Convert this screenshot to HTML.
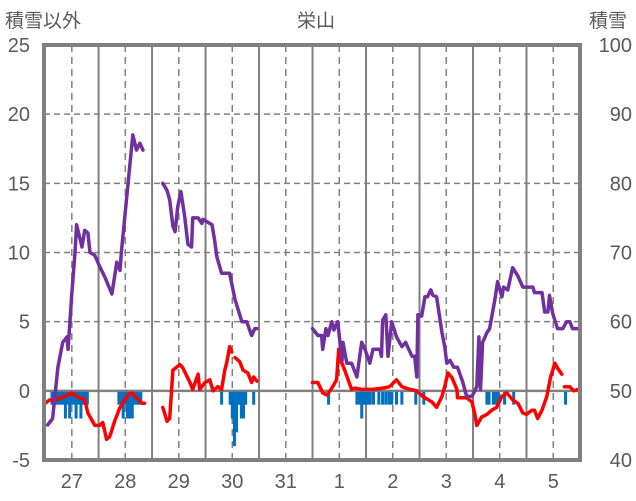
<!DOCTYPE html>
<html><head><meta charset="utf-8"><style>
body{margin:0;background:#fff;}
svg{display:block;font-family:"Liberation Sans","Noto Sans CJK JP",sans-serif;}
</style></head><body>
<svg id="chart" width="636" height="501" viewBox="0 0 636 501" xmlns="http://www.w3.org/2000/svg">
<text x="5" y="27" font-size="19" fill="#595959">積雪以外</text>
<text x="316" y="27" font-size="19" fill="#595959" text-anchor="middle">栄山</text>
<text x="589" y="27" font-size="19" fill="#595959">積雪</text>
<g id="grid"></g><g id="bars"></g><g id="lines"></g><g id="axes"></g>
</svg>
<script>
const dayTicks=[27,28,29,30,31,32,33,34,35,36];
const dayLabels=["27","28","29","30","31","1","2","3","4","5"];
const leftTicks=[-5,0,5,10,15,20,25];
const rightTicks=[40,50,60,70,80,90,100];
const snowT=[26.55,26.64,26.74,26.83,26.91,26.93,27.0,27.06,27.09,27.19,27.24,27.30,27.34,27.43,27.52,27.62,27.75,27.84,27.90,27.93,28.14,28.21,28.27,28.33,null,
28.70,28.78,28.83,28.89,28.93,28.98,29.04,29.11,29.17,29.24,29.26,29.36,29.43,29.45,29.62,29.67,29.71,29.80,29.95,30.05,30.18,30.27,30.36,30.42,30.46,null,
31.50,31.60,31.67,31.69,31.75,31.79,31.86,31.90,31.97,32.05,32.07,32.14,32.23,32.33,32.42,32.48,32.57,32.63,32.76,32.79,32.81,32.87,32.91,32.98,33.07,33.17,33.24,33.36,33.41,33.45,33.47,33.54,33.60,33.65,33.71,33.75,33.82,33.92,33.97,34.01,34.07,34.14,34.21,34.31,34.38,34.48,34.57,34.61,34.64,34.68,34.76,34.81,34.91,34.96,35.04,35.07,35.15,35.24,35.34,35.43,35.62,35.65,35.79,35.84,35.90,35.93,35.99,36.08,36.18,36.25,36.31,36.36,36.46];
const snowV=[-2.46,-2.0,1.7,3.5,3.9,3.0,7.0,10,12,10.4,11.6,11.4,10.0,9.8,9.0,8.2,7.0,9.3,8.7,10.2,18.5,17.4,17.9,17.4,null,
15.0,14.5,13.8,11.9,11.5,13.3,14.4,12.6,10.6,10.4,12.5,12.5,12.1,12.4,12.0,10.9,9.7,8.5,8.5,6.6,5.0,5.0,4.0,4.5,4.5,null,
4.5,4.0,4.0,3.0,4.5,4.0,5.0,4.4,5.0,2.2,3.5,2.0,2.0,1.0,3.5,3.0,2.0,3.0,3.0,2.5,5.1,5.5,2.5,5.0,3.9,3.2,3.5,2.5,2.5,1.0,5.5,5.4,6.8,6.8,7.3,6.9,6.8,4.2,3.2,2.0,2.2,1.7,1.7,0.6,-0.4,-0.4,0.3,3.9,0.1,3.5,4.2,4.5,6.6,7.9,6.8,7.5,7.3,8.9,8.3,7.5,7.5,7.1,7.1,5.7,5.7,6.9,5.6,4.5,4.5,5.0,5.0,4.5,4.5];
const tempT=[26.50,26.59,26.68,26.87,27.0,27.09,27.24,27.30,27.43,27.52,27.58,27.65,27.71,27.80,27.90,27.99,28.05,28.12,28.21,28.31,28.36,null,
28.70,28.78,28.83,28.89,29.02,29.07,29.21,29.26,29.36,29.39,29.49,29.58,29.64,29.73,29.80,29.86,29.90,29.95,29.99,null,
30.05,30.14,30.20,30.29,30.36,30.40,30.46,null,
31.50,31.60,31.69,31.77,31.86,31.95,31.99,32.05,32.12,32.23,32.29,32.42,32.63,32.81,32.94,33.07,33.17,33.32,33.45,33.56,33.73,33.82,33.92,33.97,34.03,34.10,34.20,34.21,34.38,34.48,34.53,34.57,34.66,34.76,34.85,34.94,35.04,35.13,35.24,35.34,35.43,35.50,35.60,35.65,35.71,35.79,35.88,35.95,36.03,36.07,36.16,null,
36.21,36.31,36.38,36.46];
const tempV=[-0.9,-0.65,-0.7,-0.4,-0.15,-0.4,-0.65,-1.6,-2.5,-2.5,-2.3,-3.5,-3.3,-2.2,-1.2,-0.65,-0.3,-0.15,-0.5,-0.9,-0.9,null,
-1.2,-2.2,-2.0,1.5,1.9,1.7,0.6,0.1,1.2,0.1,0.6,0.8,0.0,0.3,0.1,1.5,2.1,3.2,2.8,null,
2.4,2.1,1.5,1.3,0.6,1.0,0.7,null,
0.6,0.6,-0.15,-0.3,0.2,0.8,3.0,2.0,1.3,0.1,0.2,0.1,0.1,0.2,0.3,0.8,0.3,0.1,0.0,-0.4,-0.8,-1.2,-0.4,0.3,1.3,1.0,0.1,-0.5,-0.5,-0.8,-1.6,-2.5,-1.9,-1.7,-1.4,-1.2,-0.4,-0.15,-0.65,-0.9,-1.6,-1.7,-1.4,-1.4,-2.0,-1.4,-0.4,1.0,2.0,1.7,1.2,null,
0.3,0.3,0.0,0.1];
const barT=[26.63,26.67,26.71,26.75,26.79,26.83,26.88,26.92,26.96,27.0,27.04,27.08,27.13,27.17,27.21,27.25,27.29,
27.88,27.92,27.96,28.0,28.04,28.08,28.13,28.17,28.21,28.25,28.29,
29.80,29.96,30.0,30.04,30.08,30.13,30.17,30.21,30.25,30.40,
31.80,32.33,32.38,32.42,32.46,32.50,32.54,32.58,32.64,32.74,32.81,32.87,32.93,32.98,33.07,33.17,33.43,33.58,
34.76,34.80,34.88,34.92,34.97,35.09,35.26,36.23];
const barV=[-1,-1,-1,-1,-1,-1,-2,-1,-2,-1,-1,-2,-1,-2,-1,-1,-1,
-1,-1,-2,-1,-2,-2,-2,-1,-1,-1,-1,
-1,-1,-2,-4,-3,-1,-2,-2,-1,-1,
-1,-1,-1,-2,-1,-1,-1,-1,-1,-1,-1,-1,-1,-1,-1,-1,-1,-1,
-1,-1,-1,-1,-1,-1,-1,-1];

const NS="http://www.w3.org/2000/svg";
const X0=44,X1=580,Y0=45,Y1=460,TMIN=26.48,TMAX=36.5,VMIN=-5,VMAX=25;
const xs=t=>X0+(t-TMIN)/(TMAX-TMIN)*(X1-X0);
const ys=v=>Y1-(v-VMIN)/(VMAX-VMIN)*(Y1-Y0);
const yr=r=>ys((r-50)/2);
function mk(tag,attrs,parent){const e=document.createElementNS(NS,tag);for(const k in attrs)e.setAttribute(k,attrs[k]);parent.appendChild(e);return e;}
const grid=document.getElementById('grid'),bars=document.getElementById('bars'),lines=document.getElementById('lines'),axes=document.getElementById('axes');
leftTicks.forEach(v=>{
  if(v>VMIN&&v<VMAX&&v!==0){const l=mk('line',{x1:X0,x2:X1,y1:ys(v),y2:ys(v),stroke:'#808080','stroke-width':1.5,'stroke-dasharray':'6,4'},grid);
  
  }
  const t=mk('text',{x:30,y:ys(v)+7,'font-size':20,fill:'#595959','text-anchor':'end'},axes);t.textContent=v;
  
  
});
rightTicks.forEach(r=>{
  const t=mk('text',{x:632,y:yr(r)+7,'font-size':20,fill:'#595959','text-anchor':'end'},axes);t.textContent=r;
  
  
});
dayTicks.forEach((d,i)=>{
  const l=mk('line',{x1:xs(d),x2:xs(d),y1:Y0,y2:Y1,stroke:'#808080','stroke-width':1.5,'stroke-dasharray':'7,5'},grid);
  
  
  if(d+0.5<TMAX){const s=mk('line',{x1:xs(d+0.5),x2:xs(d+0.5),y1:Y0,y2:Y1,stroke:'#808080','stroke-width':2},grid);
  
  }
  const t=mk('text',{x:xs(d),y:488,'font-size':20,fill:'#595959','text-anchor':'middle'},axes);t.textContent=dayLabels[i];
  
  
});
const z=mk('line',{x1:X0,x2:X1,y1:ys(0),y2:ys(0),stroke:'#808080','stroke-width':2.5},grid);


barT.forEach((t,i)=>{
  const r=mk('rect',{x:xs(t)-1.5,y:ys(0)+1,width:3,height:ys(barV[i])-ys(0)-1,fill:'#0070c0'},bars);
  
  
});
function path(T,V){let d='',pen=false;T.forEach((t,i)=>{if(t===null||V[i]===null){pen=false;return;}d+=(pen?'L':'M')+xs(t).toFixed(1)+','+ys(V[i]).toFixed(1);pen=true;});return d;}
const pT=mk('path',{d:path(tempT,tempV),fill:'none',stroke:'#ff0000','stroke-width':3.5,'stroke-linejoin':'round','stroke-linecap':'round'},lines);


const pS=mk('path',{d:path(snowT,snowV),fill:'none',stroke:'#7030a0','stroke-width':3.5,'stroke-linejoin':'round','stroke-linecap':'round'},lines);


const b=mk('rect',{x:X0,y:Y0,width:X1-X0,height:Y1-Y0,fill:'none',stroke:'#808080','stroke-width':4},axes);


</script>
</body></html>
